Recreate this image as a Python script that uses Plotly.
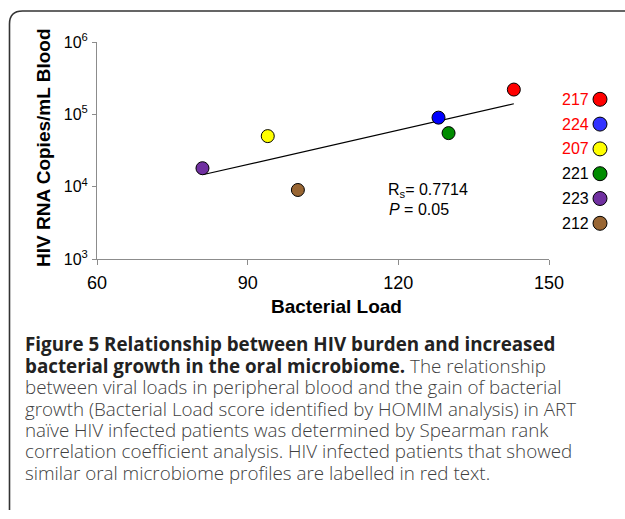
import plotly.graph_objects as go

# ---- data ----
patients = ["217", "224", "207", "221", "223", "212"]
bacterial_load = [143, 128, 94, 130, 81, 100]
hiv_rna = [2.2e5, 9.0e4, 5.0e4, 5.5e4, 1.8e4, 9.0e3]
colors = ["#FF0000", "#0000FF", "#FFFF00", "#008C00", "#7030A0", "#996633"]
legend_colors = ["#FF0000", "#3333FF", "#FFFF00", "#008C00", "#7030A0", "#996633"]
label_colors = ["#FF0000", "#FF0000", "#FF0000", "#000000", "#000000", "#000000"]
trend_x = [81, 143]
trend_y = [1.46e4, 1.40e5]
y_tickvals = [1e3, 1e4, 1e5, 1e6]
y_ticktext = ["10<sup>3</sup>", "10<sup>4</sup>", "10<sup>5</sup>", "10<sup>6</sup>"]
x_tickvals = [60, 90, 120, 150]

caption_lines = [
    "<b>Figure 5 Relationship between HIV burden and increased</b>",
    "<b>bacterial growth in the oral microbiome.</b><span style='color:#404040'> The relationship</span>",
    "<span style='color:#404040'>between viral loads in peripheral blood and the gain of bacterial</span>",
    "<span style='color:#404040'>growth (Bacterial Load score identified by HOMIM analysis) in ART</span>",
    "<span style='color:#404040'>naïve HIV infected patients was determined by Spearman rank</span>",
    "<span style='color:#404040'>correlation coefficient analysis. HIV infected patients that showed</span>",
    "<span style='color:#404040'>similar oral microbiome profiles are labelled in red text.</span>",
]

# ---- geometry ----
W, H = 625, 519
ML, MR, MT, MB = 97, 76, 42, 260
PW, PH = W - ML - MR, H - MT - MB


def px(x):
    return (x - ML) / PW


def py(y):
    return (H - MB - y) / PH


AXFONT = "Liberation Sans, Arial, Helvetica, sans-serif"
CAPFONT = "Open Sans, sans-serif"

fig = go.Figure()

fig.add_trace(go.Scatter(
    x=trend_x, y=trend_y, mode="lines",
    line=dict(color="black", width=1.2), showlegend=False, hoverinfo="skip"))

for pid, bx, hy, c in zip(patients, bacterial_load, hiv_rna, colors):
    fig.add_trace(go.Scatter(
        x=[bx], y=[hy], mode="markers", name=pid, showlegend=False,
        marker=dict(size=13, color=c, line=dict(color="black", width=1)),
        cliponaxis=False))

shapes = []
annotations = []

# rounded border
x0, ytop, ybot, r = 9.5, 11, 510, 13
shapes.append(dict(
    type="path", xref="paper", yref="paper",
    path=(f"M {px(x0)},{py(ybot)} L {px(x0)},{py(ytop + r)} "
          f"Q {px(x0)},{py(ytop)} {px(x0 + r)},{py(ytop)} L {px(W + 5)},{py(ytop)}"),
    line=dict(color="#333333", width=1.6)))

# custom legend (label then marker)
leg_y0, leg_dy = 99.3, 24.8
for i, (pid, lc, tc) in enumerate(zip(patients, legend_colors, label_colors)):
    cy = leg_y0 + i * leg_dy
    shapes.append(dict(
        type="circle", xref="paper", yref="paper",
        xsizemode="pixel", ysizemode="pixel",
        xanchor=px(600), yanchor=py(cy), x0=-7, x1=7, y0=-7, y1=7,
        fillcolor=lc, line=dict(color="black", width=1)))
    annotations.append(dict(
        xref="paper", yref="paper", x=px(591), y=py(cy), xanchor="right", yanchor="middle",
        text=pid, showarrow=False, font=dict(family=AXFONT, size=16, color=tc)))

# stats text
annotations.append(dict(
    xref="paper", yref="paper", x=px(386), y=py(190.7), xanchor="left", yanchor="middle",
    text="R<sub>s</sub>= 0.7714", showarrow=False, font=dict(family=AXFONT, size=16, color="black")))
annotations.append(dict(
    xref="paper", yref="paper", x=px(387), y=py(209.5), xanchor="left", yanchor="middle",
    text="<i>P</i> = 0.05", showarrow=False, font=dict(family=AXFONT, size=16, color="black")))

# axis titles
annotations.append(dict(
    xref="paper", yref="paper", x=px(336), y=py(306.7), xanchor="center", yanchor="middle",
    text="<b>Bacterial Load</b>", showarrow=False, font=dict(family=AXFONT, size=19, color="black")))
annotations.append(dict(
    xref="paper", yref="paper", x=px(43), y=py(148), xanchor="center", yanchor="middle",
    text="<b>HIV RNA Copies/mL Blood</b>", textangle=-90, showarrow=False,
    font=dict(family=AXFONT, size=19, color="black")))

# caption
cap_y0, cap_dy = 344.3, 21.4
for i, line in enumerate(caption_lines):
    annotations.append(dict(
        xref="paper", yref="paper", x=px(23), y=py(cap_y0 + i * cap_dy),
        xanchor="left", yanchor="middle", text=line, showarrow=False, align="left",
        font=dict(family=CAPFONT, size=18.8, color="#222222", weight=300)))

fig.update_layout(
    width=W, height=H,
    margin=dict(l=ML, r=MR, t=MT, b=MB, pad=0),
    paper_bgcolor="white", plot_bgcolor="white",
    showlegend=False,
    shapes=shapes, annotations=annotations,
    xaxis=dict(
        range=[60, 150], tickvals=x_tickvals, showgrid=False, zeroline=False,
        showline=True, linecolor="#8c8c8c", linewidth=1,
        ticks="outside", ticklen=5, tickcolor="#8c8c8c", tickwidth=1,
        tickfont=dict(family=AXFONT, size=18, color="black"),
        ticklabelstandoff=2, automargin=False),
    yaxis=dict(
        type="log", range=[3, 6], tickvals=y_tickvals, ticktext=y_ticktext,
        showgrid=False, zeroline=False,
        showline=True, linecolor="#8c8c8c", linewidth=1,
        ticks="outside", ticklen=4, tickcolor="#8c8c8c", tickwidth=1,
        tickfont=dict(family=AXFONT, size=16, color="black"),
        ticklabelstandoff=1, automargin=False),
)

fig.write_html(
    "out.html",
    config={"displayModeBar": False},
    post_script="document.body.style.margin='0';document.body.style.overflow='hidden';",
)
